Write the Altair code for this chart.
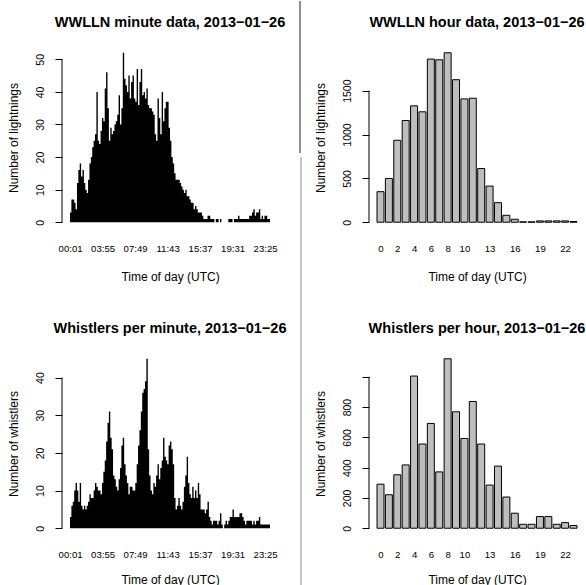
import altair as alt
import pandas as pd

# ---- data ----
# WWLLN lightnings per minute, shown as 10-minute envelope bins (144 bins over the day)
LIGHT_MIN = [
    3, 7, 7, 6, 4, 12, 16, 18, 14, 16,
    12, 10, 9, 13, 18, 20, 23, 25, 27, 40,
    25, 24, 28, 32, 31, 41, 46, 35, 25, 29,
    27, 28, 30, 31, 33, 39, 30, 35, 52, 44,
    42, 40, 45, 38, 43, 45, 38, 37, 47, 36,
    43, 47, 39, 40, 38, 41, 36, 35, 35, 34,
    33, 27, 25, 38, 32, 27, 40, 31, 35, 37,
    37, 29, 25, 20, 18, 15, 13, 13, 13, 12,
    11, 10, 9, 10, 8, 8, 7, 6, 6, 4,
    5, 4, 3, 3, 3, 2, 1, 1, 1, 2,
    2, 1, 1, 1, 0, 1, 1, 0, 1, 0,
    0, 0, 0, 0, 1, 1, 1, 0, 1, 1,
    1, 2, 1, 1, 1, 1, 1, 1, 1, 2,
    2, 3, 4, 2, 3, 3, 4, 1, 2, 1,
    2, 2, 1, 1,
]
# Whistlers per minute, same 10-minute envelope bins
WHIS_MIN = [
    3, 6, 7, 10, 12, 10, 7, 12, 6, 5,
    6, 5, 6, 7, 9, 8, 8, 10, 12, 11,
    10, 10, 9, 12, 15, 18, 23, 28, 31, 24,
    21, 14, 13, 11, 10, 13, 16, 22, 24, 17,
    14, 12, 9, 11, 11, 10, 10, 12, 17, 22,
    26, 31, 36, 37, 39, 45, 21, 14, 10, 9,
    12, 11, 14, 17, 13, 16, 18, 24, 19, 18,
    17, 22, 23, 21, 17, 8, 5, 6, 8, 6,
    5, 7, 11, 14, 19, 12, 9, 8, 11, 8,
    10, 8, 12, 9, 5, 5, 5, 4, 5, 7,
    3, 2, 1, 2, 2, 2, 1, 2, 4, 1,
    0, 1, 2, 1, 2, 3, 3, 5, 3, 3,
    3, 3, 4, 4, 3, 2, 1, 2, 2, 2,
    2, 1, 2, 1, 2, 2, 3, 1, 1, 1,
    1, 1, 1, 1,
]
BIN_MINUTES = 10

HOURS = list(range(24))
LIGHT_HOUR = [348, 499, 934, 1160, 1327, 1259, 1860, 1852, 1932, 1625, 1406, 1414,
              612, 412, 223, 79, 34, 4, 4, 15, 15, 15, 15, 8]
WHIS_HOUR = [291, 221, 353, 418, 1005, 556, 692, 372, 1119, 769, 593, 837,
             556, 285, 410, 206, 99, 26, 26, 77, 77, 26, 37, 18]

MIN_TICK_INDEX = [0, 234, 468, 702, 936, 1170, 1404]
MIN_TICK_LABELS = ["00:01", "03:55", "07:49", "11:43", "15:37", "19:31", "23:25"]
HOUR_TICK_SHOWN = [0, 2, 4, 6, 8, 10, 13, 16, 19, 22]

TITLES = ["WWLLN minute data, 2013\u221201\u221226", "WWLLN hour data, 2013\u221201\u221226",
          "Whistlers per minute, 2013\u221201\u221226", "Whistlers per hour, 2013\u221201\u221226"]
YTITLES = ["Number of lightnings", "Number of whistlers"]
XTITLE = "Time of day (UTC)"

FONT = "Liberation Sans"
W, H = 216, 183


def y_scale(vals):
    m = max(vals)
    return alt.Scale(domain=[-0.04 * m, 1.04 * m], nice=False, zero=False)


def y_axis(title, ticks, hide_top=False):
    if hide_top:
        expr = "datum.value == %s ? '' : '' + datum.value" % ticks[-1]
    else:
        expr = "'' + datum.value"
    return alt.Axis(values=ticks, title=title, domain=False, grid=False, ticks=True,
                    tickSize=7, tickColor="black", tickWidth=1,
                    labelAngle=270, labelAlign="center", labelBaseline="middle",
                    labelPadding=15, labelFontSize=10.5, labelFont=FONT, labelColor="black",
                    labelFlush=False, labelOverlap=False, labelExpr=expr,
                    titleFont=FONT, titleFontSize=12, titleFontWeight="normal",
                    titleColor="black", titleAngle=270, titleAlign="center",
                    titleBaseline="middle", titleX=-49, titleY=H / 2)


def x_axis(values, expr, title_y):
    return alt.Axis(values=values, labelExpr=expr, title=XTITLE, ticks=False, tickSize=0,
                    domain=False, grid=False, labelPadding=19, labelBaseline="middle",
                    labelFontSize=9.6, labelFont=FONT, labelColor="black",
                    labelFlush=False, labelOverlap=False,
                    titleFont=FONT, titleFontSize=12, titleFontWeight="normal",
                    titleColor="black", titleY=title_y, titleBaseline="middle")


one = pd.DataFrame({"d": [0]})


def title_mark(text):
    return alt.Chart(one).mark_text(text=text, font=FONT, fontSize=14.5, fontWeight="bold",
                                    align="center", baseline="alphabetic", color="black"
                                    ).encode(x=alt.value(W / 2), y=alt.value(-19))


def axis_line(top, yaxis):
    df = pd.DataFrame({"value": [0], "hi": [top]})
    return alt.Chart(df).mark_rule(color="black", strokeWidth=1).encode(
        x=alt.value(0), y=alt.Y("value:Q", axis=yaxis), y2="hi:Q")


def minute_panel(vals, title, ytitle, yticks, title_y):
    n = len(vals)
    # step outline: each bin holds its value until the next bin edge (last edge closes the day)
    df = pd.DataFrame({
        "start": [BIN_MINUTES * i for i in range(n)] + [BIN_MINUTES * n],
        "value": list(vals) + [vals[-1]],
        "base": [0] * (n + 1),
    })
    pos = [k + 0.5 for k in MIN_TICK_INDEX]
    expr = "%s[indexof(%s, datum.value)]" % (
        "[" + ",".join("'%s'" % s for s in MIN_TICK_LABELS) + "]",
        "[" + ",".join(str(p) for p in pos) + "]")
    yaxis = y_axis(ytitle, yticks)
    area = alt.Chart(df).mark_area(color="black", interpolate="step-after", opacity=1).encode(
        x=alt.X("start:Q", scale=alt.Scale(domain=[-57.6, 1497.6], nice=False, zero=False),
                axis=x_axis(pos, expr, title_y)),
        y=alt.Y("value:Q", scale=y_scale(vals), axis=yaxis),
        y2="base:Q",
    )
    return area, axis_line(yticks[-1], yaxis), title_mark(title)


def hour_panel(vals, title, ytitle, yticks, title_y, hide_top=False):
    df = pd.DataFrame({"hour": HOURS, "value": vals, "base": [0] * len(vals)})
    pos = [round(0.7 + 1.2 * h, 4) for h in HOUR_TICK_SHOWN]
    yaxis = y_axis(ytitle, yticks, hide_top)
    bars = alt.Chart(df).transform_calculate(
        x0="0.2 + 1.2 * datum.hour", x1="1.2 + 1.2 * datum.hour").mark_bar(
        fill="#BEBEBE", stroke="black", strokeWidth=1).encode(
        x=alt.X("x0:Q", scale=alt.Scale(domain=[-0.944, 29.944], nice=False, zero=False),
                axis=x_axis(pos, "'' + round((datum.value - 0.7) / 1.2)", title_y)),
        x2="x1:Q",
        y=alt.Y("value:Q", scale=y_scale(vals), axis=yaxis),
        y2="base:Q",
    )
    return bars, axis_line(yticks[-1], yaxis), title_mark(title)


sep_top = alt.Chart(one).mark_rule(color="#222222", strokeWidth=1).encode(
    x=alt.value(238), y=alt.value(-45), y2=alt.value(107))
sep_bot = alt.Chart(one).mark_rule(color="#8a8a8a", strokeWidth=1).encode(
    x=alt.value(239), y=alt.value(111), y2=alt.value(545))

tl = alt.layer(*minute_panel(LIGHT_MIN, TITLES[0], YTITLES[0], [0, 10, 20, 30, 40, 50], 47),
               sep_top, sep_bot).properties(width=W, height=H)
tr = alt.layer(*hour_panel(LIGHT_HOUR, TITLES[1], YTITLES[0], [0, 500, 1000, 1500], 47)
               ).properties(width=W, height=H)
bl = alt.layer(*minute_panel(WHIS_MIN, TITLES[2], YTITLES[1], [0, 10, 20, 30, 40], 44)
               ).properties(width=W, height=H)
br = alt.layer(*hour_panel(WHIS_HOUR, TITLES[3], YTITLES[1], [0, 200, 400, 600, 800, 1000],
                           44, hide_top=True)).properties(width=W, height=H)

chart = alt.concat(tl, tr, bl, br, columns=2, spacing={"row": 123, "column": 91},
                   bounds="flush").properties(
    padding={"left": 7, "right": 0, "top": 0, "bottom": 0},
    background="white",
).configure_view(stroke=None)

chart.save("out.html", embed_options={"renderer": "svg", "actions": False})
